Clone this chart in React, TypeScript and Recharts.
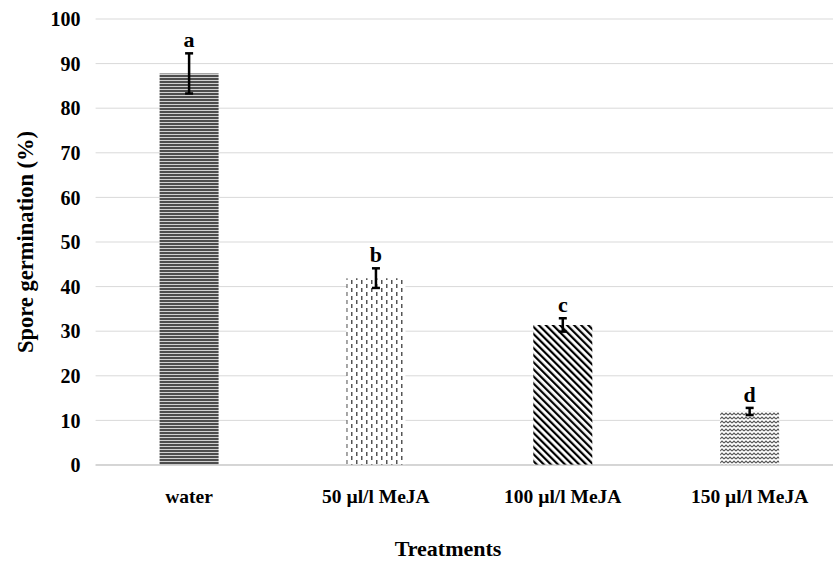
import { BarChart, Bar, XAxis, YAxis, CartesianGrid, ErrorBar, Cell, LabelList, Label } from 'recharts'

const treatments = ['water', '50 µl/l MeJA', '100 µl/l MeJA', '150 µl/l MeJA']
const germination = [87.8, 41.9, 31.4, 12.0]
const errors = [4.5, 2.2, 1.5, 0.8]
const letters = ['a', 'b', 'c', 'd']
const yTicks = [0, 10, 20, 30, 40, 50, 60, 70, 80, 90, 100]

const patternIds = ['pWater', 'p50', 'p100', 'p150']

const data = treatments.map((name, i) => ({
  name,
  value: germination[i],
  err: errors[i],
  letter: letters[i],
}))

const font = '"Liberation Serif", "Times New Roman", serif'

function Patterns() {
  return (
    <svg width={0} height={0} style={{ position: 'absolute' }}>
      <defs>
        <pattern id="pWater" width={4} height={3} patternUnits="userSpaceOnUse">
          <rect width={4} height={3} fill="#d0d0d0" />
          <rect width={4} height={2} fill="#4d4d4d" />
        </pattern>
        <pattern id="p50" width={10} height={8} patternUnits="userSpaceOnUse">
          <rect width={10} height={8} fill="#fff" />
          <rect x={1} y={0} width={1.5} height={4} fill="#555" />
          <rect x={6} y={4} width={1.5} height={4} fill="#555" />
        </pattern>
        <pattern id="p100" width={5} height={10} patternUnits="userSpaceOnUse" patternTransform="rotate(-45)">
          <rect width={5} height={10} fill="#fff" />
          <rect x={0} width={2.2} height={10} fill="#000" />
        </pattern>
        <pattern id="p150" width={4} height={4} patternUnits="userSpaceOnUse">
          <rect width={4} height={4} fill="#fff" />
          <path d="M0 3 L2 1 L4 3" stroke="#555" strokeWidth={1.1} fill="none" />
        </pattern>
      </defs>
    </svg>
  )
}

function LetterLabel(props: any) {
  const { x, y, width, height, value, index } = props
  const errPx = (errors[index] / germination[index]) * height
  return (
    <text
      x={x + width / 2}
      y={y - errPx - 6}
      textAnchor="middle"
      fontFamily={font}
      fontWeight="bold"
      fontSize={22}
      fill="#000"
    >
      {value}
    </text>
  )
}

function YTitle(props: any) {
  const { viewBox } = props
  const cx = 25
  const cy = viewBox.y + viewBox.height / 2
  return (
    <text
      x={cx}
      y={cy}
      transform={`rotate(-90 ${cx} ${cy})`}
      textAnchor="middle"
      dominantBaseline="central"
      fontFamily={font}
      fontWeight="bold"
      fontSize={22.5}
      fill="#000"
    >
      Spore germination (%)
    </text>
  )
}

function XTitle(props: any) {
  const { viewBox } = props
  return (
    <text
      x={448}
      y={viewBox.y + viewBox.height - 6}
      textAnchor="middle"
      fontFamily={font}
      fontWeight="bold"
      fontSize={22}
      fill="#000"
    >
      Treatments
    </text>
  )
}

export default function App() {
  return (
    <div style={{ position: 'absolute', left: 0, top: 0, width: 833, height: 562, overflow: 'hidden', background: '#fff' }}>
      <Patterns />
      <BarChart
        width={843}
        height={562}
        data={data}
        margin={{ top: 19, right: 0, left: 0, bottom: 0 }}
        barCategoryGap="0%"
      >
        <CartesianGrid vertical={false} stroke="#d9d9d9" />
        <XAxis
          dataKey="name"
          height={97}
          tickLine={false}
          tickSize={0}
          tickMargin={24}
          axisLine={{ stroke: '#bfbfbf' }}
          tick={{ fontFamily: font, fontWeight: 'bold', fontSize: 19.5, fill: '#000' }}
        >
          <Label content={<XTitle />} />
        </XAxis>
        <YAxis
          width={95.6}
          domain={[0, 100]}
          ticks={yTicks}
          tickLine={false}
          tickSize={0}
          tickMargin={15}
          axisLine={false}
          tick={{ fontFamily: font, fontWeight: 'bold', fontSize: 20, fill: '#000' }}
        >
          <Label content={<YTitle />} />
        </YAxis>
        <Bar dataKey="value" barSize={59} isAnimationActive={false}>
          {data.map((d, i) => (
            <Cell key={d.name} fill={`url(#${patternIds[i]})`} />
          ))}
          <ErrorBar dataKey="err" width={4} strokeWidth={2.5} stroke="#000" direction="y" />
          <LabelList dataKey="letter" content={<LetterLabel />} />
        </Bar>
      </BarChart>
    </div>
  )
}
